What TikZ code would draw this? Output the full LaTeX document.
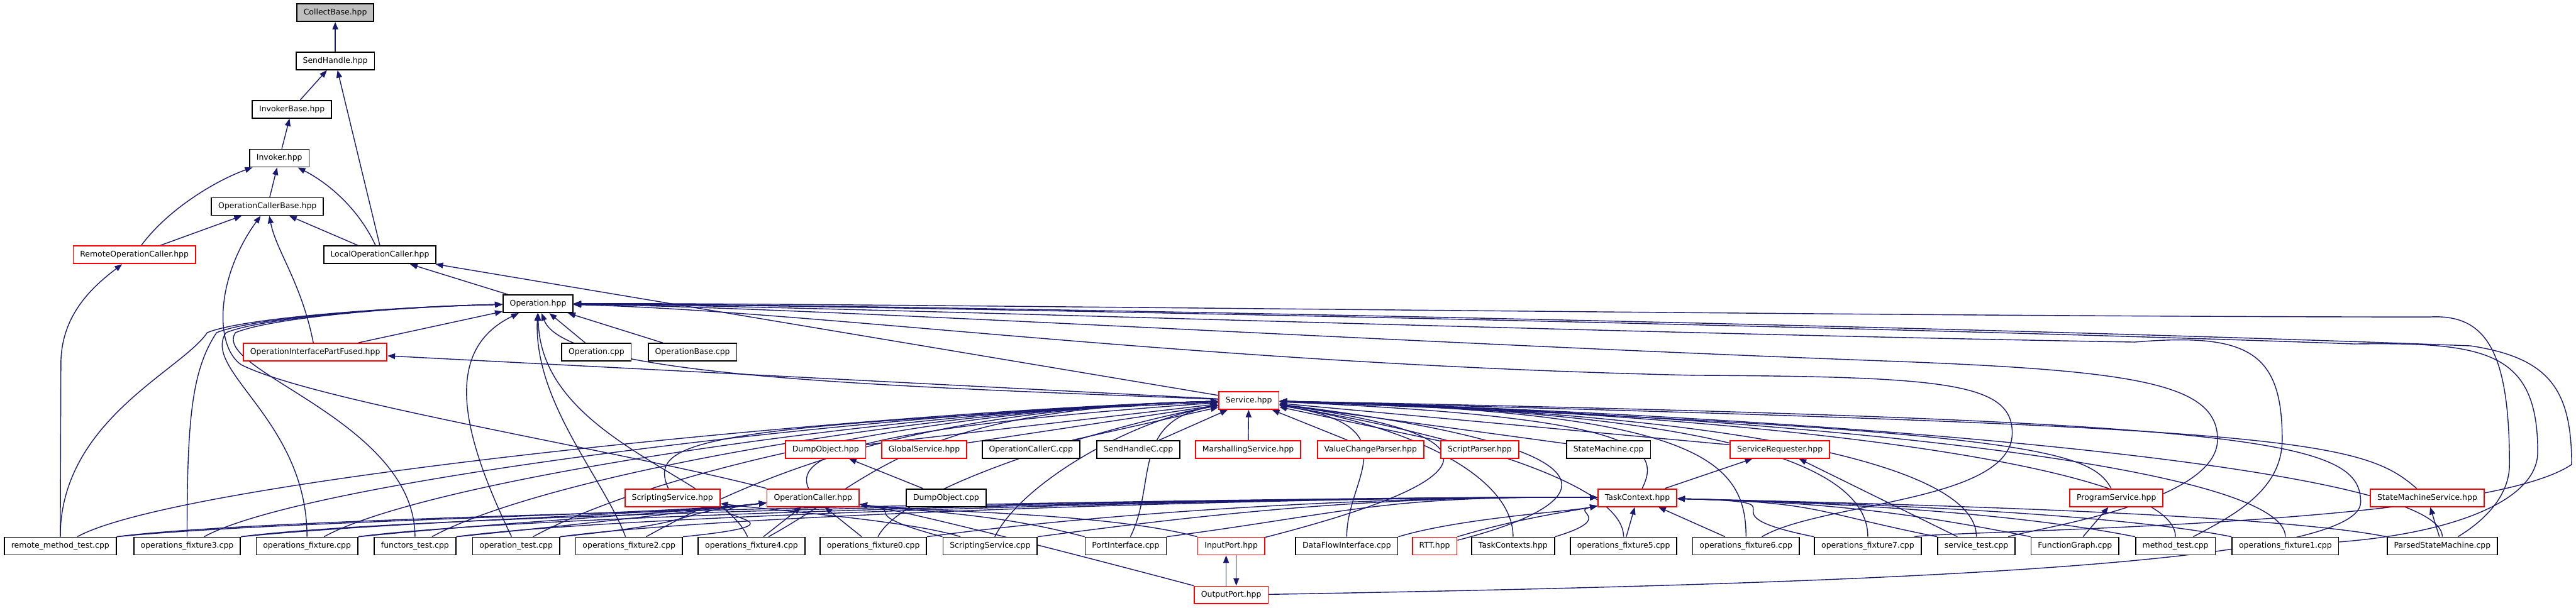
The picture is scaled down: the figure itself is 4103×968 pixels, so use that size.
\documentclass[tikz,border=0pt]{standalone}
\usepackage{fontspec}
\setsansfont{DejaVu Sans}
\usetikzlibrary{arrows.meta,backgrounds}
\definecolor{edgeblue}{RGB}{25,25,112}

\tikzset{
  file/.style={draw=black, fill=white, line width=0.5pt, inner xsep=3.1pt, inner ysep=0pt,
    minimum height=0.28cm, font=\sffamily\fontsize{3.55}{4.2}\selectfont},
  hot/.style={file, draw=red},
  root/.style={file, fill=gray!50},
  dep/.style={draw=edgeblue, line width=0.4pt, -{Triangle[length=3.4pt,width=2.6pt]}},
}

\begin{document}
\begin{tikzpicture}[x=0.01cm, y=-0.01cm]
    \useasboundingbox (0,0) rectangle (4103,968);

    % Catena in alto
    \node[root] (cb) at (534,20) {CollectBase.hpp};
    \node[file] (sh) at (534,97) {SendHandle.hpp};
    \node[file] (ib) at (465,174) {InvokerBase.hpp};
    \node[file] (inv) at (445,252) {Invoker.hpp};
    \node[file] (ocb) at (426,329) {OperationCallerBase.hpp};
    \node[hot] (roc) at (214,406) {RemoteOperationCaller.hpp};
    \node[file] (loc) at (605,406) {LocalOperationCaller.hpp};
    \node[file] (op) at (857,484) {Operation.hpp};
    \node[hot] (oipf) at (502,561) {OperationInterfacePartFused.hpp};
    \node[file] (opcpp) at (950,561) {Operation.cpp};
    \node[file] (opbase) at (1103,561) {OperationBase.cpp};
    \node[hot] (srv) at (1989,638) {Service.hpp};

    % Figli di Service
    \node[hot] (dumph) at (1315,716) {DumpObject.hpp};
    \node[hot] (gsrv) at (1472,716) {GlobalService.hpp};
    \node[file] (occ) at (1642,716) {OperationCallerC.cpp};
    \node[file] (shc) at (1813,716) {SendHandleC.cpp};
    \node[hot] (mars) at (1988,716) {MarshallingService.hpp};
    \node[hot] (vcp) at (2183,716) {ValueChangeParser.hpp};
    \node[hot] (sp) at (2357,716) {ScriptParser.hpp};
    \node[file] (smcpp) at (2562,716) {StateMachine.cpp};
    \node[hot] (sreq) at (2835,716) {ServiceRequester.hpp};

    % Riga intermedia
    \node[hot] (ssh) at (1071,793) {ScriptingService.hpp};
    \node[hot] (oc) at (1295,793) {OperationCaller.hpp};
    \node[file] (dumpc) at (1507,793) {DumpObject.cpp};
    \node[hot] (tc) at (2608,793) {TaskContext.hpp};
    \node[hot] (progs) at (3371,793) {ProgramService.hpp};
    \node[hot] (sms) at (3866,793) {StateMachineService.hpp};

    % Riga in basso
    \node[file] (rmt) at (96,870) {remote\_method\_test.cpp};
    \node[file] (of3) at (298,870) {operations\_fixture3.cpp};
    \node[file] (of) at (489,870) {operations\_fixture.cpp};
    \node[file] (ft) at (661,870) {functors\_test.cpp};
    \node[file] (ot) at (822,870) {operation\_test.cpp};
    \node[file] (of2) at (1002,870) {operations\_fixture2.cpp};
    \node[file] (of4) at (1197,870) {operations\_fixture4.cpp};
    \node[file] (of0) at (1391,870) {operations\_fixture0.cpp};
    \node[file] (sscpp) at (1577,870) {ScriptingService.cpp};
    \node[file] (pi) at (1793,870) {PortInterface.cpp};
    \node[hot] (ip) at (1961,870) {InputPort.hpp};
    \node[file] (dfi) at (2145,870) {DataFlowInterface.cpp};
    \node[hot] (rtt) at (2285,870) {RTT.hpp};
    \node[file] (tcs) at (2410,870) {TaskContexts.hpp};
    \node[file] (of5) at (2586,870) {operations\_fixture5.cpp};
    \node[file] (of6) at (2781,870) {operations\_fixture6.cpp};
    \node[file] (of7) at (2975,870) {operations\_fixture7.cpp};
    \node[file] (st) at (3148,870) {service\_test.cpp};
    \node[file] (fg) at (3305,870) {FunctionGraph.cpp};
    \node[file] (mt) at (3465,870) {method\_test.cpp};
    \node[file] (of1) at (3640,870) {operations\_fixture1.cpp};
    \node[file] (psm) at (3890,870) {ParsedStateMachine.cpp};
    \node[hot] (outp) at (1961,948) {OutputPort.hpp};

    \begin{scope}[on background layer]
    % Archi in alto
    \draw[dep] (sh) -- (cb);
    \draw[dep] (ib) -- (sh);
    \draw[dep] (loc.north) -- (sh);
    \draw[dep] (inv) -- (ib);
    \draw[dep] (ocb) -- (inv);
    \draw[dep] (roc) .. controls (270,330) and (350,285) .. (inv);
    \draw[dep] (loc) .. controls (570,330) and (520,290) .. (inv);
    \draw[dep] (roc) -- (ocb);
    \draw[dep] (loc) -- (ocb);
    \draw[dep] (oipf) .. controls (480,450) and (440,400) .. (ocb);
    \draw[dep] (oc.north west) .. controls (1000,720) and (500,640) .. (384,581) .. controls (340,550) and (345,440) .. (ocb);
    \draw[dep] (rmt) -- (97,580) .. controls (97,500) and (150,455) .. (roc);
    \draw[dep] (op) -- (loc);
    \draw[dep] (srv) -- (loc);

    % Archi verso Operation.hpp
    \draw[dep] (oipf) -- (op);
    \draw[dep] (opcpp) -- (op);
    \draw[dep] (opbase) -- (op);
    \draw[dep] (srv) -- (oipf);
    \draw[dep] (srv) .. controls (1400,615) and (900,600) .. (op);
    \foreach \s/\a in {rmt/330,of3/345,of/360,ft/375}
        \draw[dep] (\s) .. controls +(0,-200) and (\a-40,590) .. (\a,530) .. controls (\a+60,505) and (650,488) .. (op);
    \draw[dep] (ot) .. controls (740,700) and (700,560) .. (op);
    \draw[dep] (of2) .. controls (960,760) and (850,640) .. (op);
    \draw[dep] (of4) .. controls (1150,760) and (860,700) .. (op);
    % anelli a destra
    \draw[dep] (of6) .. controls (2900,800) and (3205,800) .. (3205,690) .. controls (3205,610) and (3100,600) .. (2700,598) .. controls (1900,580) and (1300,495) .. (op);
    \draw[dep] (st) .. controls (3250,840) and (3532,800) .. (3532,700) .. controls (3532,610) and (3400,590) .. (3000,575) .. controls (2200,545) and (1300,490) .. (op);
    \draw[dep] (mt) .. controls (3560,820) and (3635,780) .. (3635,700) .. controls (3635,560) and (3580,530) .. (3400,545) .. controls (2500,530) and (1300,487) .. (op);
    \draw[dep] (of1) .. controls (3900,850) and (4042,800) .. (4042,720) .. controls (4042,560) and (3960,545) .. (3750,548) .. controls (3000,520) and (1300,485) .. (op);
    \draw[dep] (psm) .. controls (3940,840) and (3997,800) .. (3997,740) .. controls (3997,560) and (3960,500) .. (3870,505) .. controls (3000,505) and (1300,482) .. (op);
    \draw[dep] (of7) .. controls (3100,845) and (3950,840) .. (4096,740) .. controls (4096,620) and (4060,570) .. (3935,551) .. controls (3000,515) and (1300,484) .. (op);

    % Archi verso Service.hpp
    \foreach \s in {dumph,gsrv,occ,shc,mars,vcp,sp,smcpp,sreq}
        \draw[dep] (\s) -- (srv);
    \draw[dep] (ssh) .. controls (1030,700) and (1120,680) .. (srv);
    \draw[dep] (oc) .. controls (1260,720) and (1400,680) .. (srv);
    \draw[dep] (tc) .. controls (2650,710) and (2600,665) .. (srv);
    \draw[dep] (progs) .. controls (3330,720) and (3250,685) .. (srv);
    \draw[dep] (sms) .. controls (3760,700) and (3650,680) .. (srv);
    \draw[dep] (ip) .. controls (2330,775) and (2440,700) .. (srv);
    \draw[dep] (rtt) .. controls (2520,810) and (2650,720) .. (srv);
    \draw[dep] (outp) .. controls (3000,930) and (3760,900) .. (3760,800) .. controls (3760,700) and (3600,670) .. (srv);
    \foreach \s in {rmt,of3,of,ft,ot,of2,of4}
        \draw[dep] (\s) .. controls +(200,-110) and (1450,652) .. (srv);
    \foreach \s in {of0,sscpp,pi}
        \draw[dep] (\s) .. controls +(50,-100) and (1800,670) .. (srv);
    \foreach \s in {dfi,tcs,of5}
        \draw[dep] (\s) .. controls +(0,-110) and (2250,680) .. (srv);
    \foreach \s in {of6,of7,st,mt,of1,psm}
        \draw[dep] (\s) .. controls +(0,-140) and (2700,655) .. (srv);

    % Archi verso OperationCaller.hpp
    \foreach \s in {rmt,of3,of,ft,ot,of2}
        \draw[dep] (\s.north east) .. controls +(250,-25) and (1050,820) .. (oc);
    \draw[dep] (of4) -- (oc);
    \draw[dep] (of0) -- (oc);
    \foreach \s in {sscpp,pi,ip,outp}
        \draw[dep] (\s.north west) .. controls +(-150,-40) and (1450,815) .. (oc);

    % Archi verso TaskContext.hpp
    \foreach \s in {rmt,of3,of,ft,ot,of0,sscpp,pi}
        \draw[dep] (\s.north east) .. controls +(300,-40) and (2200,790) .. (tc);
    \foreach \s in {dfi,rtt,tcs}
        \draw[dep] (\s.north east) .. controls +(100,-30) and (2500,815) .. (tc);
    \draw[dep] (of5) -- (tc);
    \draw[dep] (of6) -- (tc);
    \foreach \s in {of7,st,fg,mt,of1,psm}
        \draw[dep] (\s.north west) .. controls +(-200,-40) and (2900,800) .. (tc);

    % Altri archi
    \draw[dep] (dumpc) -- (dumph);
    \draw[dep] (sscpp) .. controls (1450,830) and (1250,815) .. (ssh);
    \draw[dep] (tc) -- (sreq);
    \draw[dep] (st) -- (sreq);
    \draw[dep] (fg) -- (progs);
    \draw[dep] (psm) -- (sms);
    \draw[dep] ([xshift=-2.3pt]outp.north) -- ([xshift=-2.3pt]ip.south);
    \draw[dep] ([xshift=2.3pt]ip.south) -- ([xshift=2.3pt]outp.north);
    \end{scope}
\end{tikzpicture}
\end{document}
